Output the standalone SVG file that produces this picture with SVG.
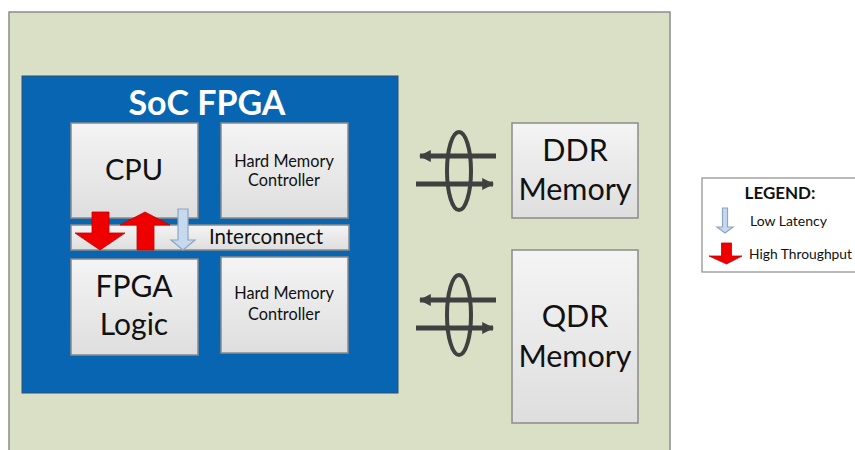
<svg xmlns="http://www.w3.org/2000/svg" width="855" height="450" viewBox="0 0 855 450">
  <defs>
    <linearGradient id="boxFill" x1="0" y1="0" x2="0" y2="1">
      <stop offset="0" stop-color="#f4f4f4"/>
      <stop offset="1" stop-color="#dedede"/>
    </linearGradient>
    <marker id="busHead" viewBox="0 0 10 10" refX="9" refY="5" markerWidth="2.4" markerHeight="2.4" orient="auto-start-reverse">
      <path d="M0,0 L10,5 L0,10 Z" fill="#404040"/>
    </marker>
    <style>
      .lbl { font-family: Lato, "Open Sans", "Liberation Sans", sans-serif; fill: #111; text-anchor: middle; }
      .leg { font-family: Lato, "Open Sans", "Liberation Sans", sans-serif; fill: #111; }
      .block { fill: url(#boxFill); stroke: #8a8a8a; stroke-width: 1.5; }
      .bus { stroke: #404040; stroke-width: 5; fill: none; }
      .ring { stroke: #404040; stroke-width: 4; fill: none; }
      .hi { fill: #ee0000; stroke: #c00000; stroke-width: 0.8; }
      .lo { fill: #c6d9ef; stroke: #8ea6c2; stroke-width: 1.2; }
    </style>
  </defs>

  <rect x="0" y="0" width="855" height="450" fill="#ffffff"/>

  <!-- board panel -->
  <rect id="board" x="9" y="12" width="661" height="450" fill="#d9e0c5" stroke="#8c8c8c" stroke-width="1.5"/>

  <!-- SoC FPGA device -->
  <g id="soc">
    <rect x="22" y="76" width="376" height="317" fill="#0865b2" stroke="#2b4f78" stroke-width="1"/>
    <text class="lbl" x="207" y="115" font-size="34" font-weight="bold" style="fill:#ffffff">SoC FPGA</text>
  </g>

  <g id="cpu">
    <rect class="block" x="71" y="123" width="127" height="95"/>
    <text class="lbl" x="134" y="180" font-size="29">CPU</text>
  </g>

  <g id="hmc-top">
    <rect class="block" x="221" y="123" width="127" height="95"/>
    <text class="lbl" x="284" y="167" font-size="16.3">Hard Memory</text>
    <text class="lbl" x="284" y="186" font-size="16.3">Controller</text>
  </g>

  <g id="interconnect">
    <rect class="block" x="71" y="225" width="278" height="25"/>
    <text class="lbl" x="266" y="244" font-size="20.5">Interconnect</text>
  </g>

  <g id="fpga-logic">
    <rect class="block" x="71" y="259" width="127" height="96"/>
    <text class="lbl" x="134" y="297" font-size="30">FPGA</text>
    <text class="lbl" x="134" y="335" font-size="30">Logic</text>
  </g>

  <g id="hmc-bottom">
    <rect class="block" x="221" y="257" width="127" height="96"/>
    <text class="lbl" x="284" y="299" font-size="16.3">Hard Memory</text>
    <text class="lbl" x="284" y="320" font-size="16.3">Controller</text>
  </g>

  <g id="ddr">
    <rect class="block" x="512" y="123" width="126" height="95"/>
    <text class="lbl" x="575" y="161" font-size="30.5">DDR</text>
    <text class="lbl" x="575" y="200" font-size="30.5">Memory</text>
  </g>

  <g id="qdr">
    <rect class="block" x="512" y="250" width="126" height="173"/>
    <text class="lbl" x="575" y="327" font-size="30.5">QDR</text>
    <text class="lbl" x="575" y="367" font-size="30.5">Memory</text>
  </g>

  <!-- connectors: data-flow arrows and memory buses -->
  <g id="connectors">
    <!-- high-throughput path, FPGA-bound -->
    <path class="hi" d="M92,212 L109,212 L109,233 L125,233 L100,250 L75,233 L92,233 Z"/>
    <!-- high-throughput path, CPU-bound -->
    <path class="hi" d="M137,250 L154,250 L154,225 L170,225 L145,212 L120,225 L137,225 Z"/>
    <!-- low-latency path -->
    <path class="lo" d="M178,209 L188,209 L188,240 L195,240 L183,250 L171,240 L178,240 Z"/>

    <!-- DDR bus -->
    <line class="bus" x1="420" y1="156" x2="496" y2="156" marker-start="url(#busHead)"/>
    <line class="bus" x1="416" y1="184" x2="493" y2="184" marker-end="url(#busHead)"/>
    <ellipse class="ring" cx="459" cy="171" rx="12" ry="39"/>

    <!-- QDR bus -->
    <line class="bus" x1="420" y1="300" x2="496" y2="300" marker-start="url(#busHead)"/>
    <line class="bus" x1="416" y1="328" x2="493" y2="328" marker-end="url(#busHead)"/>
    <ellipse class="ring" cx="459" cy="315" rx="12" ry="40"/>
  </g>

  <!-- legend -->
  <g id="legend">
    <rect x="702" y="178" width="160" height="94" fill="#ffffff" stroke="#8c8c8c" stroke-width="1.2"/>
    <text class="leg" x="780" y="199" font-size="17" font-weight="bold" text-anchor="middle">LEGEND:</text>
    <path class="lo" d="M722.5,208 L727.5,208 L727.5,227 L733,227 L725,233 L717,227 L722.5,227 Z"/>
    <text class="leg" x="750" y="226" font-size="14">Low Latency</text>
    <path class="hi" d="M721.5,243 L731.5,243 L731.5,256 L742,256 L726.5,264 L709,256 L721.5,256 Z"/>
    <text class="leg" x="749" y="259" font-size="13.8">High Throughput</text>
  </g>
</svg>
